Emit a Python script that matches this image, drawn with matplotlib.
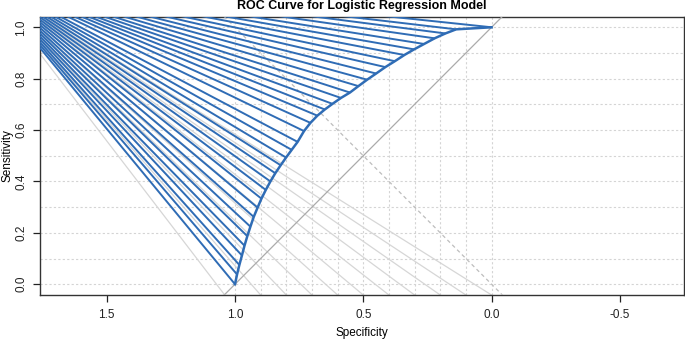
import matplotlib
matplotlib.use("Agg")
import matplotlib.pyplot as plt

plt.rcParams['font.family'] = ['Liberation Sans', 'DejaVu Sans']

# ROC curve vertices (specificity, sensitivity)
specificity = [1.000, 0.992, 0.983, 0.973, 0.963, 0.952, 0.940, 0.927, 0.912, 0.897,
               0.880, 0.862, 0.843, 0.822, 0.801, 0.779, 0.756, 0.731, 0.706, 0.679,
               0.650, 0.620, 0.587, 0.552, 0.519, 0.485, 0.450, 0.414, 0.377, 0.340,
               0.302, 0.263, 0.222, 0.180, 0.138, 0.000]
sensitivity = [0.000, 0.038, 0.075, 0.112, 0.150, 0.187, 0.224, 0.262, 0.298, 0.333,
               0.367, 0.400, 0.432, 0.463, 0.493, 0.523, 0.554, 0.596, 0.628, 0.656,
               0.680, 0.702, 0.725, 0.746, 0.771, 0.796, 0.820, 0.845, 0.868, 0.892,
               0.914, 0.935, 0.957, 0.976, 0.992, 1.000]

# common far point the fan lines run to (outside the plot, upper left)
fan_point = (2.0, 1.21)
# bottom points of the gray fan lines
gray_bottom_x = [1.04, 0.9, 0.8, 0.7, 0.6, 0.5, 0.4, 0.3, 0.2, 0.1, 0.0]

x_ticks = [1.5, 1.0, 0.5, 0.0, -0.5]
y_ticks = [0.0, 0.2, 0.4, 0.6, 0.8, 1.0]
grid_vals = [0.0, 0.1, 0.2, 0.3, 0.4, 0.5, 0.6, 0.7, 0.8, 0.9, 1.0]

xlim = (1.76, -0.75)
ylim = (-0.042, 1.04)

W, H = 685, 340
fig = plt.figure(figsize=(W/100, H/100), dpi=100)
ax = fig.add_axes([40/W, 1-295/H, 644/W, 278/H])
ax.set_xlim(*xlim)
ax.set_ylim(*ylim)

grid_color = '#d4d4d4'
for g in grid_vals:
    ax.axhline(g, color=grid_color, lw=0.8, ls=(0, (2, 2)), zorder=1)
    ax.axvline(g, color=grid_color, lw=0.8, ls=(0, (2, 2)), zorder=1)

# gray fan lines
for xb in gray_bottom_x:
    ax.plot([fan_point[0], xb], [fan_point[1], ylim[0]], color='#d6d6d6', lw=0.9, zorder=2)

# chance diagonal and identity dashed line
ax.plot([1.1, -0.1], [-0.1, 1.1], color='#ababab', lw=0.9, zorder=3)
ax.plot([1.1, -0.1], [1.1, -0.1], color='#bdbdbd', lw=0.9, ls=(0, (3, 2.5)), zorder=3)

blue = '#2F6CB5'
for sp, se in zip(specificity, sensitivity):
    ax.plot([fan_point[0], sp], [fan_point[1], se], color=blue, lw=1.4,
            solid_capstyle='butt', zorder=4)
ax.plot(specificity, sensitivity, color=blue, lw=1.8, zorder=5)

ax.set_xticks(x_ticks)
ax.set_xticklabels(['1.5', '1.0', '0.5', '0.0', '-0.5'])
ax.set_yticks(y_ticks)
ax.set_yticklabels(['0.0', '0.2', '0.4', '0.6', '0.8', '1.0'], rotation=90, va='center')
ax.tick_params(axis='both', direction='out', length=5, width=0.9, labelsize=8.5,
               colors='#222222')
ax.tick_params(axis='x', pad=5)
ax.tick_params(axis='y', pad=4)
for s in ax.spines.values():
    s.set_linewidth(1.0)
    s.set_color('#333333')

fig.text(362/W, 1-333/H, 'Specificity', fontsize=8.5, ha='center', va='center')
fig.text(8/W, 1-156/H, 'Sensitivity', fontsize=8.5, ha='center', va='center', rotation=90)
fig.text(362/W, 1-6/H, 'ROC Curve for Logistic Regression Model', fontsize=9,
         fontweight='bold', ha='center', va='center')

fig.savefig('out.png', dpi=100)
